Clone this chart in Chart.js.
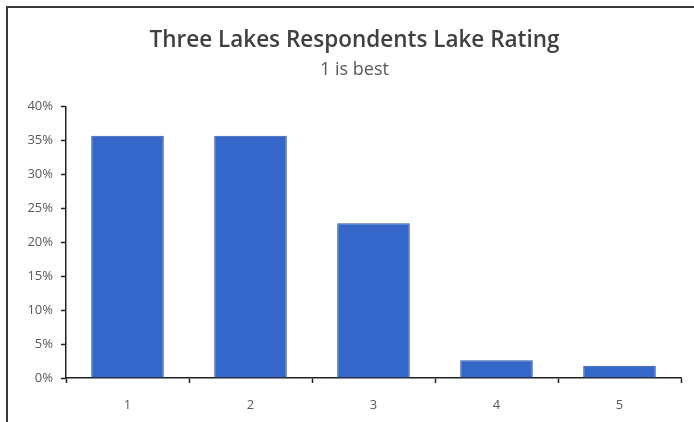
<!DOCTYPE html>
<html lang="en">
<head>
  <meta charset="UTF-8" />
  <title>Three Lakes Respondents Lake Rating</title>
  <script src="https://cdn.jsdelivr.net/npm/chart.js"></script>
  <style>
    body { margin: 0; background: #fff; }
    .frame { position: relative; width: 694px; height: 422px; }
    .frame:before {
      content: ""; position: absolute; left: 6px; top: 6px; right: 0; bottom: 0;
      border-left: 2px solid #3a3a3a; border-top: 2px solid #3a3a3a; pointer-events: none;
    }
    canvas { display: block; }
  </style>
</head>
<body>
<div class="frame">
  <canvas id="ratingChart" width="694" height="422"></canvas>
</div>

<script>
// Data
const ratings = ['1', '2', '3', '4', '5'];
const shares = [35.7, 35.7, 22.8, 2.6, 1.8];
const yTicks = [0, 5, 10, 15, 20, 25, 30, 35, 40];

const labelColor = '#595959';

new Chart(document.getElementById('ratingChart').getContext('2d'), {
  type: 'bar',
  data: {
    labels: ratings,
    datasets: [{
      data: shares,
      backgroundColor: '#3467c9',
      borderColor: '#2a55ad',
      borderWidth: 1,
      categoryPercentage: 1,
      barPercentage: 0.59
    }]
  },
  options: {
    responsive: false,
    animation: false,
    // left padding keeps the title centred like the original
    layout: { padding: { left: 28, right: 13, top: 0, bottom: 0 } },
    plugins: {
      legend: { display: false },
      tooltip: { enabled: false },
      title: {
        display: true,
        text: 'Three Lakes Respondents Lake Rating',
        color: '#404040',
        font: { family: 'Open Sans', size: 22.5, weight: '600' },
        padding: { top: 27, bottom: 3 }
      },
      subtitle: {
        display: true,
        text: '1 is best',
        color: '#595959',
        font: { family: 'Open Sans', size: 18, weight: 'normal' },
        padding: { top: 2, bottom: 26 }
      }
    },
    scales: {
      x: {
        grid: { drawOnChartArea: false, color: '#222', tickLength: 5, tickWidth: 1.5 },
        border: { color: '#222', width: 1.5 },
        ticks: { color: labelColor, font: { family: 'Open Sans', size: 13 }, padding: 14 },
        afterFit: s => { s.height = 44; }
      },
      y: {
        min: 0,
        max: 40,
        afterBuildTicks: s => { s.ticks = yTicks.map(v => ({ value: v })); },
        grid: { drawOnChartArea: false, color: '#222', tickLength: 5, tickWidth: 1.5 },
        border: { color: '#222', width: 1.5 },
        ticks: {
          color: labelColor,
          font: { family: 'Open Sans', size: 13 },
          padding: 8,
          callback: v => v + '%'
        },
        afterFit: s => { s.width = 38; }
      }
    }
  }
});
</script>
</body>
</html>
